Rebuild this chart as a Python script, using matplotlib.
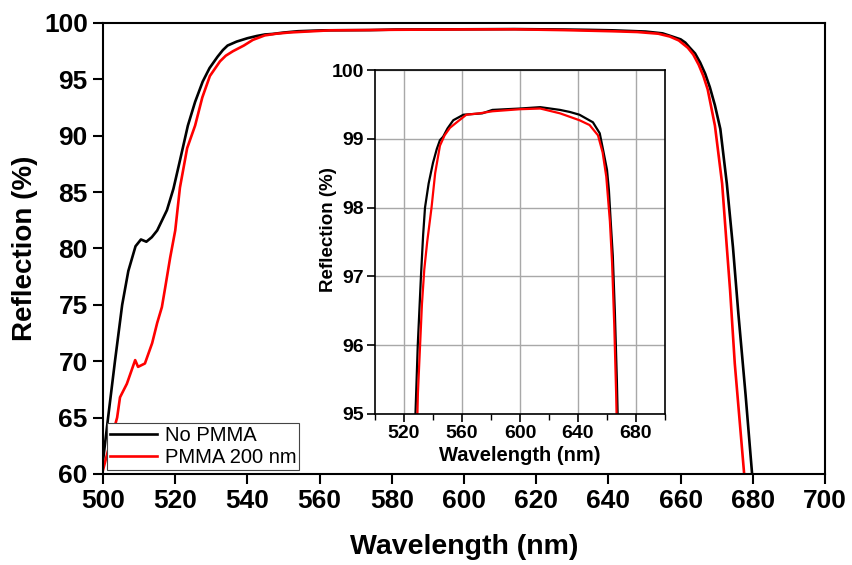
import numpy as np
import matplotlib.pyplot as plt

plt.rcParams['font.family'] = ['Liberation Sans', 'DejaVu Sans']

# No PMMA (black)
wl_a = [500, 501.4, 503.3, 505.3, 507, 509, 510.5, 512, 513.5, 515, 517.7, 519.5,
        521.3, 523.5, 525.5, 527.6, 529.5, 531.7, 533.2, 534.5, 537, 540, 542.6, 544.8,
        547, 550, 554, 561, 574, 581, 600, 614, 627.6, 634.4, 641, 650.3, 655, 657.3,
        660, 661.3, 662.5, 664, 665.4, 666.8, 668.1, 669.5, 671, 672.8, 674.5, 676,
        678, 679.8]
r_a = [61.2, 65, 70, 75, 78, 80.2, 80.8, 80.6, 81.0, 81.6, 83.4, 85.3,
       87.8, 90.9, 93.0, 94.8, 96.0, 97.0, 97.6, 98.0, 98.35, 98.65, 98.85, 98.98,
       99.03, 99.15, 99.27, 99.35, 99.37, 99.42, 99.44, 99.46, 99.42, 99.39, 99.35, 99.24, 99.08, 98.84,
       98.55, 98.26, 97.82, 97.3, 96.5, 95.5, 94.3, 92.7, 90.6, 85.75, 80.1, 74.2,
       67.0, 60.0]

# PMMA 200 nm (red)
wl_b = [500, 501.4, 503.9, 504.7, 506.6, 508.9, 509.7, 511.6, 513.6, 515, 516.3, 517.2,
        518.6, 520, 521.3, 523.3, 525.5, 527.5, 529.6, 532.4, 534, 536, 539, 541.5,
        544.8, 548, 551.7, 557, 563, 572, 581, 600, 614, 627.6, 641, 648, 653.8, 657,
        659.5, 662, 663.5, 665, 666.3, 667.5, 669.5, 671.5, 672.8, 673.7, 675, 677.6]
r_b = [60.35, 62.1, 65, 66.8, 68, 70.1, 69.5, 69.8, 71.6, 73.4, 74.8, 76.5,
       79.2, 81.6, 85.4, 88.9, 90.9, 93.4, 95.3, 96.6, 97.1, 97.5, 98.0, 98.5,
       98.9, 99.05, 99.16, 99.25, 99.35, 99.37, 99.4, 99.43, 99.44, 99.37, 99.27, 99.2, 99.05, 98.8,
       98.45, 97.8, 97.2, 96.3, 95.3, 94.1, 90.9, 85.75, 80.1, 76.3, 69.8, 60.0]

labels = ['No PMMA', 'PMMA 200 nm']

fig = plt.figure(figsize=(8.53, 5.65), dpi=100)
ax = fig.add_axes([0.1208, 0.1611, 0.8464, 0.7982])

ax.plot(wl_a, r_a, color='black', lw=1.9, label=labels[0])
ax.plot(wl_b, r_b, color='#ff0000', lw=1.9, label=labels[1])
ax.set_xlim(500, 700)
ax.set_ylim(60, 100)
ax.set_xticks(np.arange(500, 701, 20))
ax.set_yticks(np.arange(60, 101, 5))
ax.tick_params(direction='out', length=7, width=1.5, labelsize=19, pad=4)
for t in ax.get_xticklabels() + ax.get_yticklabels():
    t.set_fontweight('bold')
for s in ax.spines.values():
    s.set_linewidth(1.5)
ax.set_xlabel('Wavelength (nm)', fontsize=20.5, fontweight='bold', labelpad=15)
ax.set_ylabel('Reflection (%)', fontsize=20, fontweight='bold', labelpad=4)

leg = ax.legend(loc='lower left', bbox_to_anchor=(0.006, 0.009), fontsize=14.5,
                frameon=True, fancybox=False, edgecolor='#444444', framealpha=1,
                handlelength=2.3, handletextpad=0.4, borderpad=0.15, labelspacing=0.15,
                borderaxespad=0.0)
leg.get_frame().set_linewidth(0.8)

# inset
axi = fig.add_axes([0.4396, 0.2673, 0.340, 0.6088])
axi.plot(wl_a, r_a, color='black', lw=1.6)
axi.plot(wl_b, r_b, color='#ff0000', lw=1.6)
axi.set_xlim(500, 700)
axi.set_ylim(95, 100)
axi.set_xticks(np.arange(520, 681, 40))
axi.set_xticks(np.arange(500, 701, 40), minor=True)
axi.set_yticks(np.arange(95, 101, 1))
axi.grid(True, which='major', color='#a8a8a8', lw=1.0)
axi.tick_params(direction='out', length=6, width=1.2, labelsize=14, pad=2)
axi.tick_params(which='minor', direction='out', length=4, width=1.0)
for t in axi.get_xticklabels() + axi.get_yticklabels():
    t.set_fontweight('bold')
for s in axi.spines.values():
    s.set_linewidth(1.2)
axi.set_xlabel('Wavelength (nm)', fontsize=14.5, fontweight='bold', labelpad=3)
axi.set_ylabel('Reflection (%)', fontsize=13.5, fontweight='bold')
axi.yaxis.set_label_coords(-0.131, 0.535)

fig.savefig('out.png', dpi=100)
